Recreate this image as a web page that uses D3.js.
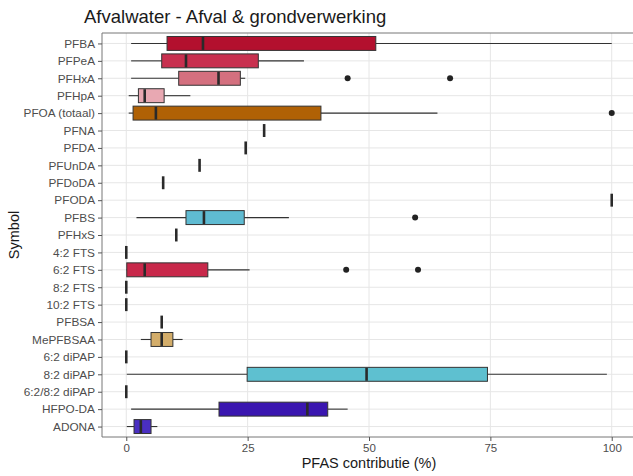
<!DOCTYPE html>
<html><head><meta charset="utf-8">
<script src="https://cdn.jsdelivr.net/npm/d3@7"></script>
<style>body{margin:0;background:#fff;} svg{display:block;font-family:"Liberation Sans",Arial,sans-serif;}</style>
</head><body>
<svg id="chart" width="633" height="476"></svg>
<script>
const categories = ["PFBA","PFPeA","PFHxA","PFHpA","PFOA (totaal)","PFNA","PFDA","PFUnDA","PFDoDA","PFODA","PFBS","PFHxS","4:2 FTS","6:2 FTS","8:2 FTS","10:2 FTS","PFBSA","MePFBSAA","6:2 diPAP","8:2 diPAP","6:2/8:2 diPAP","HFPO-DA","ADONA"];
const whiskerLow = [1.0,1.0,1.0,0.5,0.5,28.4,24.6,15.1,7.6,100,2.1,10.3,0,0,0,0,7.3,3.0,0,0.1,0,1.0,0.1];
const q1 =         [8.4,7.3,10.8,2.5,1.4,28.4,24.6,15.1,7.6,100,12.3,10.3,0,0.1,0,0,7.3,5.1,0,24.9,0,19.1,1.6];
const median =     [15.8,12.3,19.0,3.8,6.1,28.4,24.6,15.1,7.6,100,16.0,10.3,0,3.8,0,0,7.3,7.3,0,49.5,0,37.3,3.0];
const q3 =         [51.4,27.2,23.5,7.8,40.1,28.4,24.6,15.1,7.6,100,24.3,10.3,0,16.8,0,0,7.3,9.6,0,74.4,0,41.5,5.1];
const whiskerHigh =[100,36.6,24.5,13.2,64.1,28.4,24.6,15.1,7.6,100,33.5,10.3,0,25.4,0,0,7.3,11.6,0,99.0,0,45.6,6.4];
const outliers = [["PFHxA",45.6],["PFHxA",66.7],["PFOA (totaal)",100],["PFBS",59.5],["6:2 FTS",45.3],["6:2 FTS",60.1]];
const colors = ["#b3102e","#c8304f","#d4707f","#e8a8b2","#b06105","#444","#444","#444","#444","#444","#5fbbd2","#444","#444","#c8284a","#444","#444","#444","#d3ad6a","#444","#5ec0d0","#444","#3a16b0","#4a2fc2"];
const xTicks = [0,25,50,75,100];

const svg = d3.select("#chart");
const L=102, T=33, B=437;
const x = d3.scaleLinear().domain([-5,105]).range([L, 636]);
const y = d3.scalePoint().domain(categories).range([T,B]).padding(0.6);
const step = y.step();
const bh = step*0.8;

// grid
svg.append("g").selectAll("line").data(categories).join("line")
  .attr("x1",L).attr("x2",633).attr("y1",d=>y(d)).attr("y2",d=>y(d))
  .attr("stroke","#e6e6e6").attr("stroke-width",1);
svg.append("g").selectAll("line").data(xTicks).join("line")
  .attr("x1",d=>x(d)).attr("x2",d=>x(d)).attr("y1",T).attr("y2",B)
  .attr("stroke","#e6e6e6").attr("stroke-width",1);

const rows = categories.map((c,i)=>({c,lo:whiskerLow[i],q1:q1[i],med:median[i],q3:q3[i],hi:whiskerHigh[i],col:colors[i]}));
const g = svg.append("g");
rows.forEach(r=>{
  const cy = y(r.c);
  g.append("line").attr("x1",x(r.lo)).attr("x2",x(r.q1)).attr("y1",cy).attr("y2",cy).attr("stroke","#333").attr("stroke-width",1.1);
  g.append("line").attr("x1",x(r.q3)).attr("x2",x(r.hi)).attr("y1",cy).attr("y2",cy).attr("stroke","#333").attr("stroke-width",1.1);
  g.append("rect").attr("x",x(r.q1)).attr("y",cy-bh/2).attr("width",Math.max(0,x(r.q3)-x(r.q1))).attr("height",bh)
    .attr("fill",r.col).attr("stroke","#333").attr("stroke-width",1);
  g.append("line").attr("x1",x(r.med)).attr("x2",x(r.med)).attr("y1",cy-bh/2+0.5).attr("y2",cy+bh/2-0.5).attr("stroke","#2a2a2a").attr("stroke-width",2.6);
});
g.selectAll("circle").data(outliers).join("circle")
  .attr("cx",d=>x(d[1])).attr("cy",d=>y(d[0])).attr("r",3).attr("fill","#222");

// panel border
svg.append("line").attr("x1",L).attr("x2",633).attr("y1",T).attr("y2",T).attr("stroke","#777").attr("stroke-width",1);
svg.append("line").attr("x1",L).attr("x2",633).attr("y1",B).attr("y2",B).attr("stroke","#777").attr("stroke-width",1);
svg.append("line").attr("x1",L).attr("x2",L).attr("y1",T).attr("y2",B).attr("stroke","#777").attr("stroke-width",1);

// axes
const ya = svg.append("g").attr("transform",`translate(${L},0)`).call(d3.axisLeft(y).tickSize(4).tickPadding(3));
ya.select(".domain").remove();
ya.selectAll(".tick line").attr("stroke","#555");
ya.selectAll("text").attr("fill","#4d4d4d").style("font-size","11.8px").style("font-family","'Liberation Sans',Arial,sans-serif");
const xa = svg.append("g").attr("transform",`translate(0,${B})`).call(d3.axisBottom(x).tickValues(xTicks).tickSize(4).tickPadding(3));
xa.select(".domain").remove();
xa.selectAll(".tick line").attr("stroke","#555");
xa.selectAll("text").attr("fill","#4d4d4d").style("font-size","11.5px").style("font-family","'Liberation Sans',Arial,sans-serif");

svg.append("text").attr("x",84).attr("y",23).text("Afvalwater - Afval & grondverwerking").attr("fill","#1a1a1a").style("font-size","18.5px");
svg.append("text").attr("x",369).attr("y",468).attr("text-anchor","middle").text("PFAS contributie (%)").attr("fill","#1a1a1a").style("font-size","14.5px");
svg.append("text").attr("transform","translate(19,235) rotate(-90)").attr("text-anchor","middle").text("Symbol").attr("fill","#1a1a1a").style("font-size","14.5px");
</script>
</body></html>
